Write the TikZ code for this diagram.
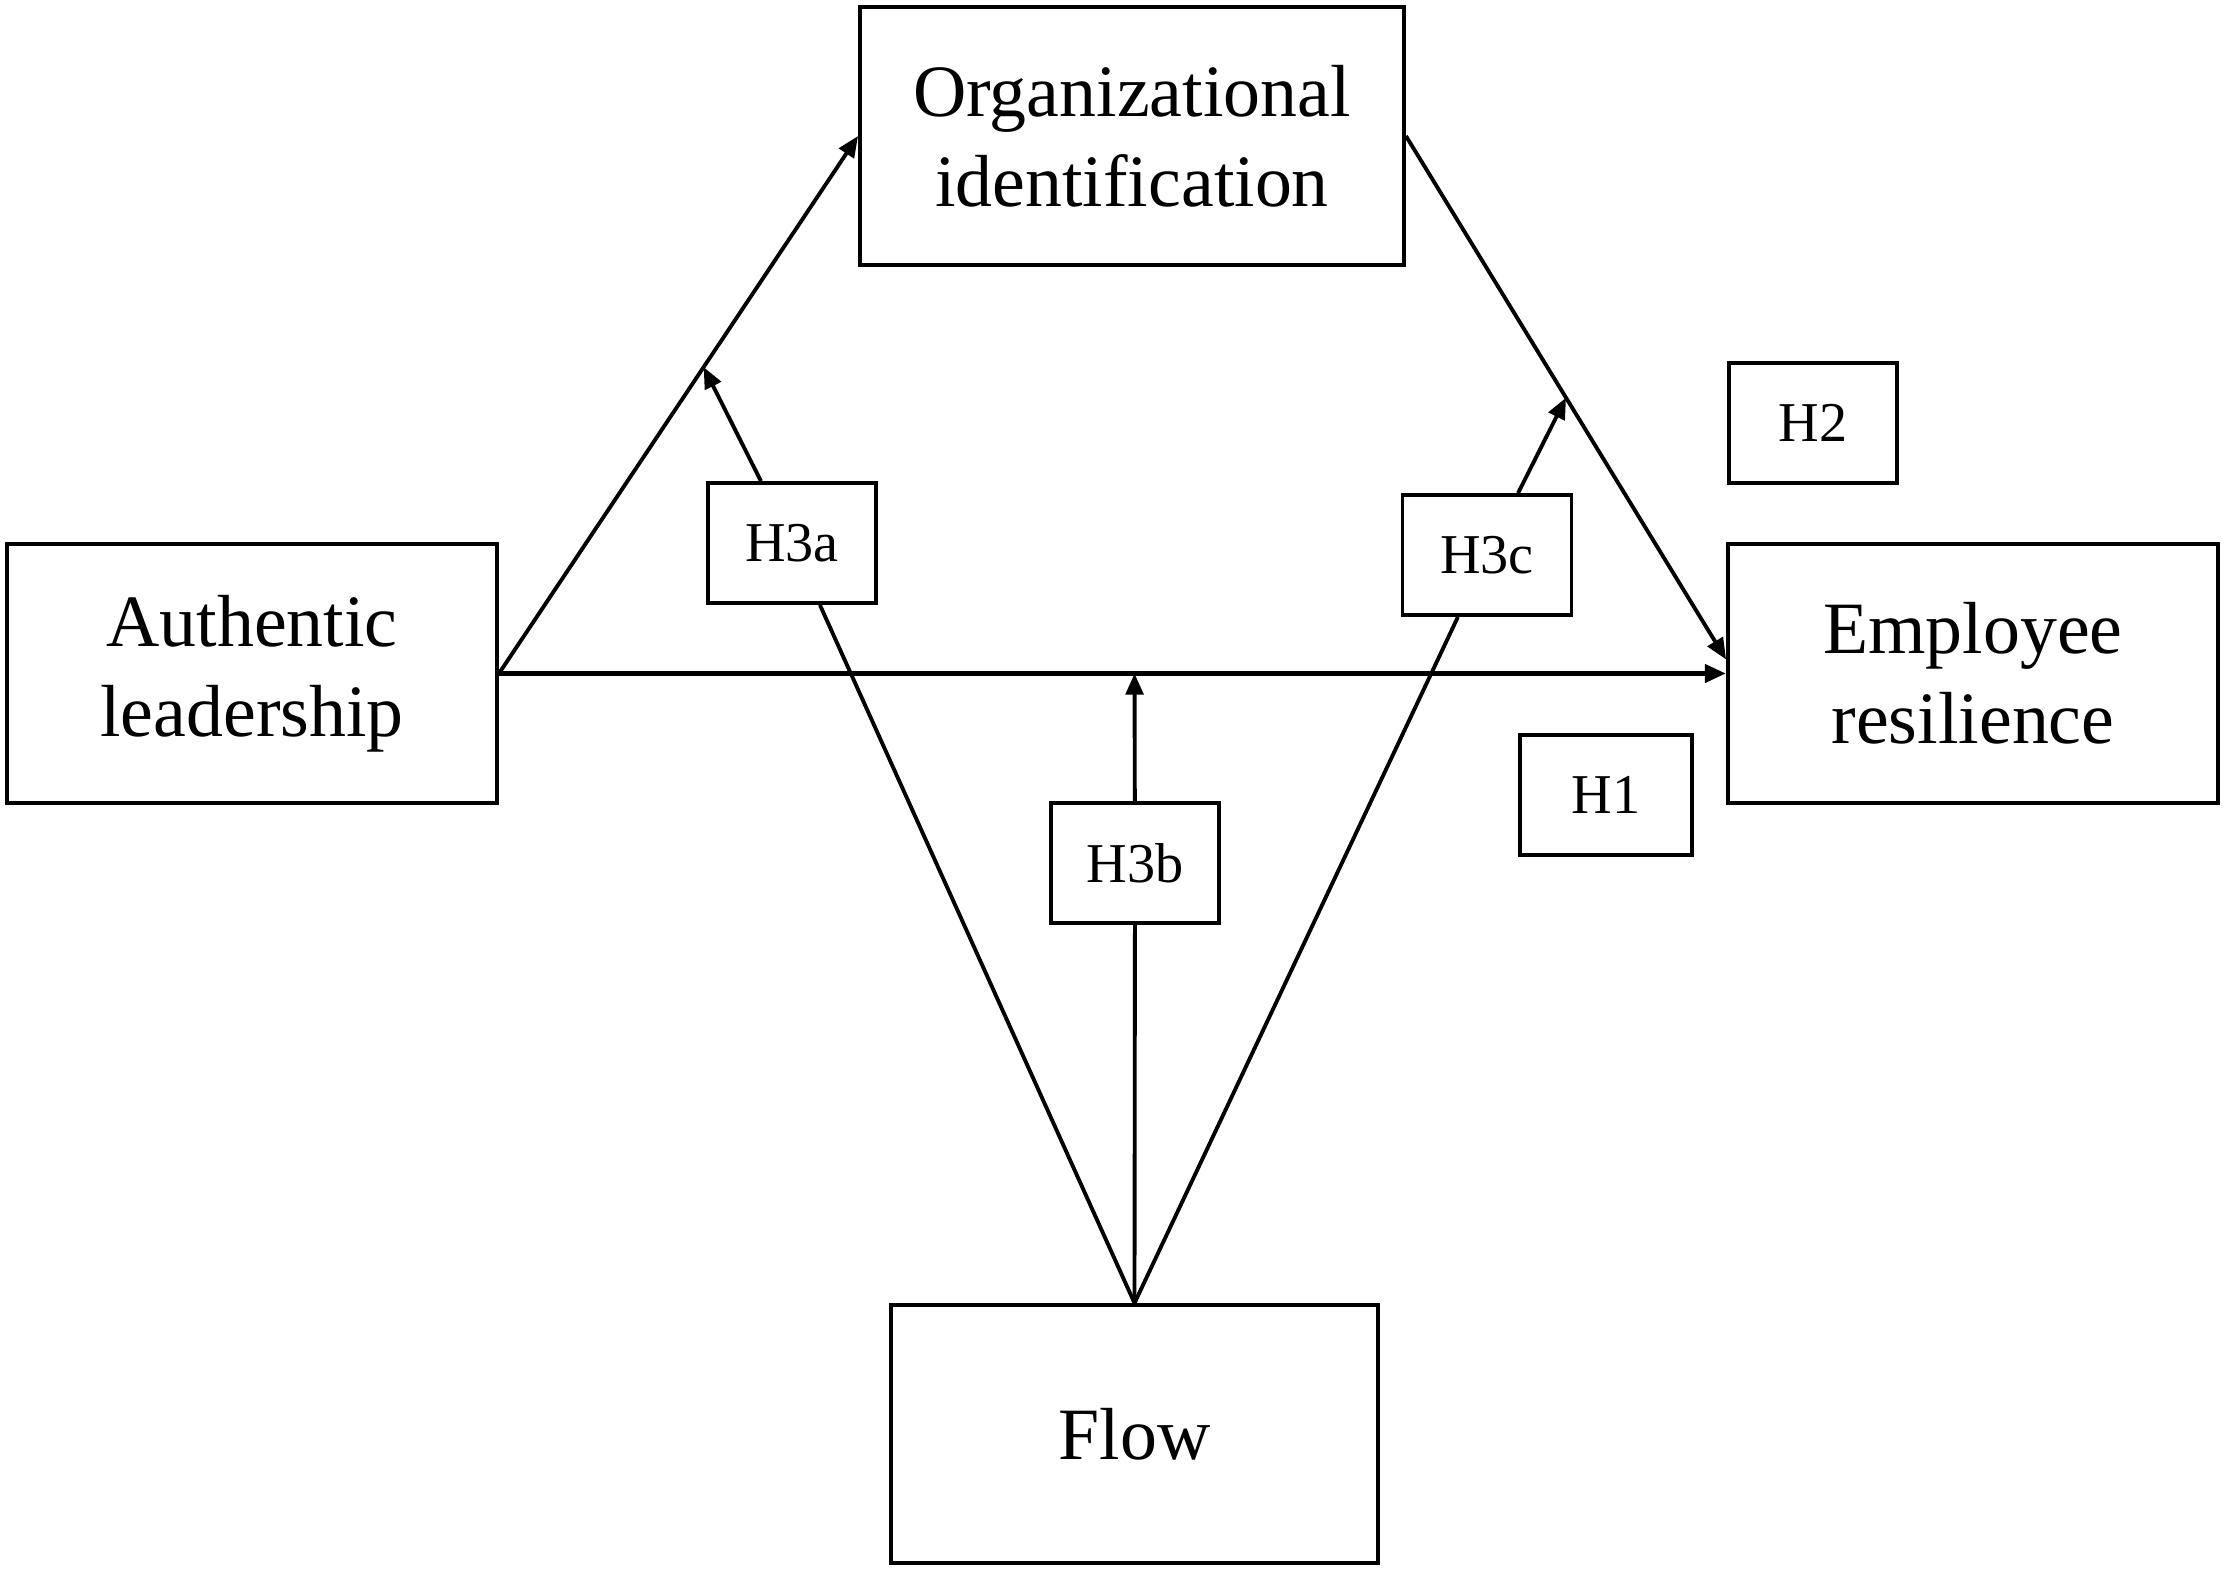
\documentclass[tikz,border=0pt]{standalone}
\usepackage{fontspec}
\setmainfont{Liberation Serif}
\usetikzlibrary{arrows.meta,calc}

\begin{document}
\begin{tikzpicture}[
  var/.style={draw, line width=1.1pt, minimum width=4.9cm, minimum height=2.59cm, inner sep=0pt, align=center, font=\fontsize{21}{25.5}\selectfont},
  hyp/.style={draw, line width=1.1pt, fill=white, minimum width=1.68cm, minimum height=1.2cm, inner sep=0pt, font=\fontsize{16}{19}\selectfont},
  arr/.style={line width=1.1pt, -{Triangle[length=6pt, width=5pt]}},
  lin/.style={line width=1.1pt}]
\useasboundingbox (0,0) rectangle (22.28,-15.74);
% Variables
\node[var] (al) at (2.52,-6.735) {Authentic\\leadership};
\node[var, minimum width=5.44cm, minimum height=2.58cm] (oi) at (11.32,-1.36) {Organizational\\identification};
\node[var] (er) at (19.73,-6.735) {Employee\\resilience};
\node[var, minimum width=4.87cm, minimum height=2.58cm] (flow) at (11.345,-14.34) {Flow};
% Hypothesis labels
\node[hyp] (h2) at (18.13,-4.23) {H2};
\node[hyp, minimum width=1.72cm] (h1) at (16.06,-7.95) {H1};
\node[hyp] (h3a) at (7.92,-5.43) {H3a};
\node[hyp, minimum width=1.69cm] (h3c) at (14.87,-5.55) {H3c};
\node[hyp] (h3b) at (11.35,-8.63) {H3b};
% Main paths
\draw[arr] (al.east) -- (oi.west);
\draw[arr, line width=1.5pt] (al.east) -- (er.west);
\draw[arr] (oi.east) -- ([yshift=4pt]er.west);
% Moderation points
\coordinate (p3a) at ($(al.east)!0.57!(oi.west)$);
\coordinate (p3c) at ($(oi.east)!0.5!([yshift=4pt]er.west)$);
\coordinate (p3b) at (flow.north |- al.east);
% Moderation paths
\draw[lin] (flow.north) -- (h3a);
\draw[arr] (h3a) -- (p3a);
\draw[lin] (flow.north) -- (h3c);
\draw[arr] (h3c) -- (p3c);
\draw[lin] (flow.north) -- (h3b);
\draw[arr] (h3b) -- (p3b);
\end{tikzpicture}
\end{document}
